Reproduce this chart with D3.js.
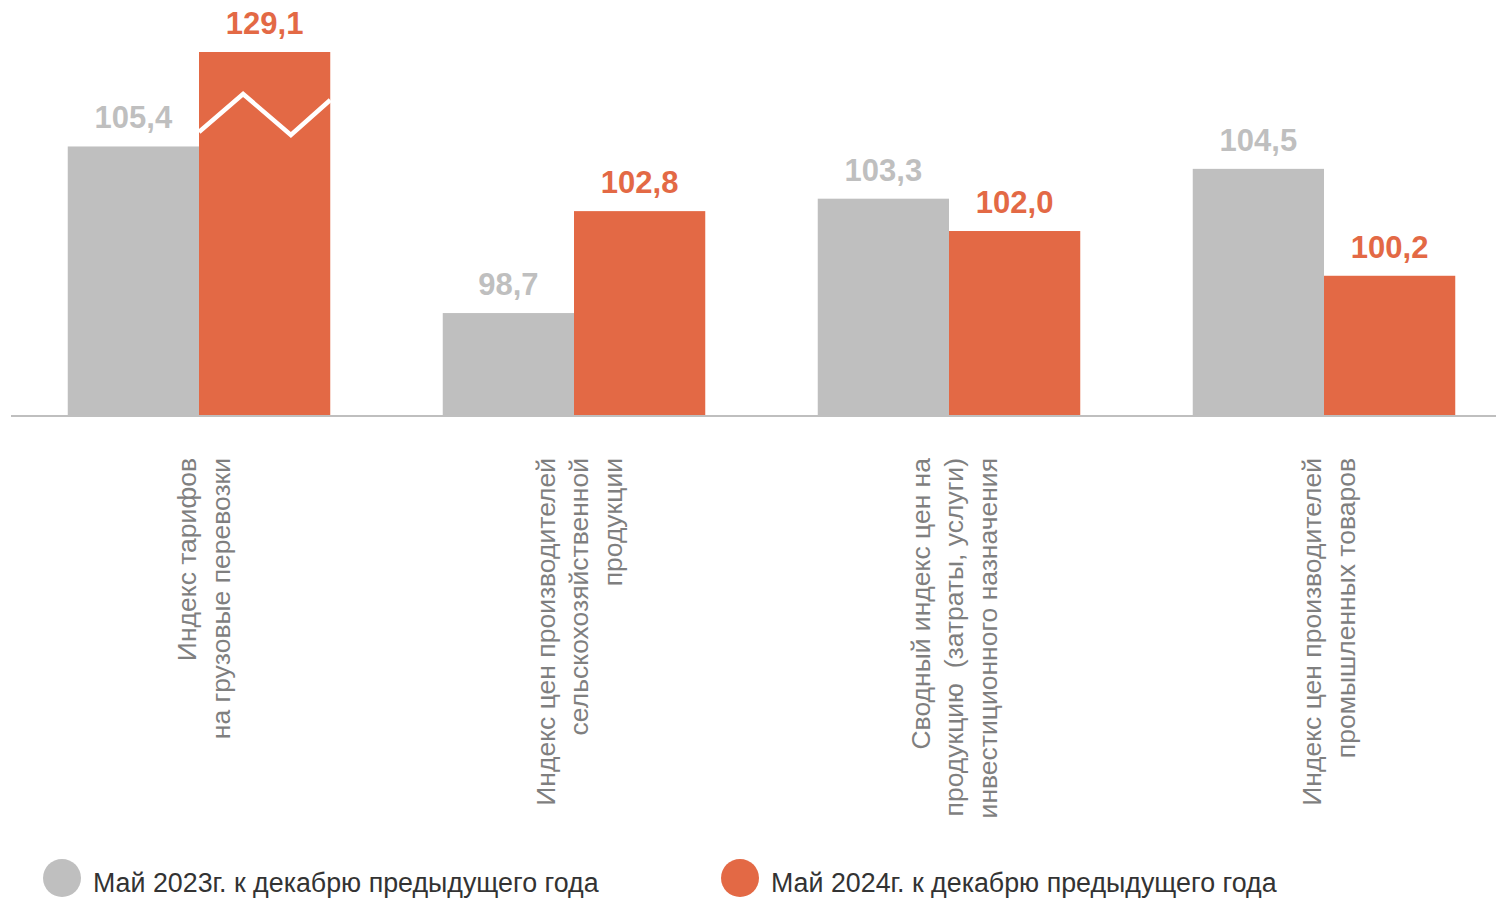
<!DOCTYPE html>
<html lang="ru">
<head>
    <meta charset="UTF-8">
    <title>Индексы цен</title>
    <script src="https://d3js.org/d3.v7.min.js"></script>
    <style>
        body { margin: 0; background: #fff; font-family: "Liberation Sans", Arial, sans-serif; }
        .value { font-weight: bold; font-size: 31px; text-anchor: middle; }
        .cat { font-size: 26.5px; fill: #7f7f7f; text-anchor: end; }
        .legend-text { font-size: 26.8px; fill: #333; }
    </style>
</head>
<body>
<div id="chart"></div>
<script>
    // categories (lines of each label)
    const categories = [
        ["Индекс тарифов", "на грузовые перевозки"],
        ["Индекс цен производителей", "сельскохозяйственной", "продукции"],
        ["Сводный индекс цен на", "продукцию  (затраты, услуги)", "инвестиционного назначения"],
        ["Индекс цен производителей", "промышленных товаров"]
    ];
    const seriesNames = ["Май 2023г. к декабрю предыдущего года", "Май 2024г. к декабрю предыдущего года"];
    const may2023 = [105.4, 98.7, 103.3, 104.5];
    const may2024 = [129.1, 102.8, 102.0, 100.2];
    const colors = ["#bfbfbf", "#e36945"];

    const width = 1496, height = 898;
    const baseY = 415;

    const svg = d3.select("#chart").append("svg")
        .attr("width", width)
        .attr("height", height);

    const x0 = d3.scaleBand()
        .domain(d3.range(categories.length))
        .range([11.5, 1511.5])
        .paddingInner(0.3)
        .paddingOuter(0.15);

    const x1 = d3.scaleBand()
        .domain([0, 1])
        .range([0, x0.bandwidth()]);

    // broken axis: values above the top are clamped and drawn with a break
    const y = d3.scaleLinear()
        .domain([94.6, 109.2])
        .range([baseY, 52])
        .clamp(true);

    const fmt = v => d3.format(".1f")(v).replace(".", ",");

    const rows = categories.map((c, i) => [may2023[i], may2024[i]]);

    const groups = svg.selectAll("g.group")
        .data(rows)
        .enter()
        .append("g")
        .attr("class", "group")
        .attr("transform", (d, i) => `translate(${x0(i)},0)`);

    groups.selectAll("rect")
        .data(d => d)
        .enter()
        .append("rect")
        .attr("x", (d, j) => x1(j))
        .attr("y", d => y(d))
        .attr("width", x1.bandwidth())
        .attr("height", d => baseY - y(d))
        .attr("fill", (d, j) => colors[j]);

    groups.selectAll("text.value")
        .data(d => d)
        .enter()
        .append("text")
        .attr("class", "value")
        .attr("x", (d, j) => x1(j) + x1.bandwidth() / 2)
        .attr("y", d => y(d) - 18)
        .attr("fill", (d, j) => colors[j])
        .text(d => fmt(d));

    // zigzag break on clamped bars
    groups.each(function (d) {
        d.forEach((v, j) => {
            if (v > y.domain()[1]) {
                const bx = x1(j), bw = x1.bandwidth(), top = y(v);
                const pts = [[0, 80], [0.336, 42], [0.7, 83], [1, 48]]
                    .map(p => [bx + p[0] * bw, top + p[1]]);
                d3.select(this).append("path")
                    .attr("d", d3.line()(pts))
                    .attr("fill", "none")
                    .attr("stroke", "#fff")
                    .attr("stroke-width", 4.5);
            }
        });
    });

    // baseline
    svg.append("line")
        .attr("x1", 11).attr("x2", 1496)
        .attr("y1", baseY + 1).attr("y2", baseY + 1)
        .attr("stroke", "#bfbfbf")
        .attr("stroke-width", 2);

    // rotated category labels
    categories.forEach((lines, i) => {
        const cx = x0(i) + x0.bandwidth() / 2 + 5;
        lines.forEach((line, k) => {
            const lx = cx + (k - (lines.length - 1) / 2) * 33.5 + 9;
            svg.append("text")
                .attr("class", "cat")
                .attr("transform", `translate(${lx},458) rotate(-90)`)
                .attr("xml:space", "preserve")
                .text(line);
        });
    });

    // legend
    const legendX = [62, 740];
    const legend = svg.selectAll("g.legend")
        .data(seriesNames)
        .enter()
        .append("g")
        .attr("class", "legend")
        .attr("transform", (d, i) => `translate(${legendX[i]},878)`);

    legend.append("circle")
        .attr("r", 19)
        .attr("fill", (d, i) => colors[i]);

    legend.append("text")
        .attr("class", "legend-text")
        .attr("x", 31)
        .attr("y", 14)
        .text(d => d);
</script>
</body>
</html>
